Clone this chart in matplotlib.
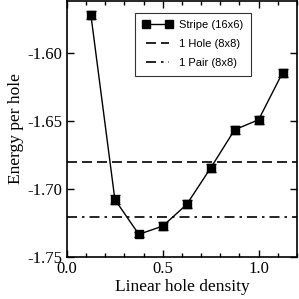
import matplotlib
matplotlib.use("Agg")
import matplotlib.pyplot as plt
from matplotlib.lines import Line2D
from matplotlib.ticker import MultipleLocator

# stripe energies vs linear hole density
density = [0.125, 0.25, 0.375, 0.5, 0.625, 0.75, 0.875, 1.0, 1.125]
energy = [-1.5718, -1.7079, -1.7336, -1.7275, -1.7115, -1.6846, -1.6564, -1.649, -1.6143]
err = [0.003, 0.003, 0.002, 0.003, 0.003, 0.003, 0.003, 0.003, 0.003]
one_hole = -1.6804
one_pair = -1.7209

fig = plt.figure(figsize=(2.99, 2.99), dpi=100)
ax = fig.add_axes([0.224, 0.142, 0.769, 0.856])

ax.errorbar(density, energy, yerr=err, color="black", marker="s", markersize=6,
            lw=1, capsize=3.5, elinewidth=1, capthick=1)
hole = ax.axhline(one_hole, color="black", lw=1.2, ls=(0, (6, 3)))
pair = ax.axhline(one_pair, color="black", lw=1.2, ls=(0, (6, 3, 1.5, 3)))
stripe = Line2D([], [], color="black", marker="s", markersize=6, lw=1)

ax.set_xlim(0, 1.2)
ax.set_ylim(-1.75, -1.561)
ax.xaxis.set_minor_locator(MultipleLocator(0.1))
ax.tick_params(which="both", direction="in", top=True, right=True, width=1)
ax.tick_params(which="major", length=5)
ax.tick_params(which="minor", length=3)
for s in ax.spines.values():
    s.set_linewidth(1.2)

serif = "Liberation Serif"
ax.set_xticks([0.0, 0.5, 1.0])
ax.set_xticklabels(["0.0", "0.5", "1.0"], family=serif, fontsize=12)
ax.set_yticks([-1.75, -1.70, -1.65, -1.60])
ax.set_yticklabels(["-1.75", "-1.70", "-1.65", "-1.60"], family=serif, fontsize=12)
ax.set_xlabel("Linear hole density", family=serif, fontsize=12.5, labelpad=1)
ax.set_ylabel("Energy per hole", family=serif, fontsize=12.5, labelpad=2)

leg = ax.legend([stripe, hole, pair], ["Stripe (16x6)", "1 Hole (8x8)", "1 Pair (8x8)"],
                loc="upper left", bbox_to_anchor=(0.27, 0.975),
                prop={"family": "Liberation Sans", "size": 8}, numpoints=2,
                frameon=True, fancybox=False, edgecolor="black", handlelength=2.7,
                borderpad=0.7, labelspacing=0.8, handletextpad=0.6)
leg.get_frame().set_linewidth(0.8)

fig.savefig("out.png", dpi=100)
